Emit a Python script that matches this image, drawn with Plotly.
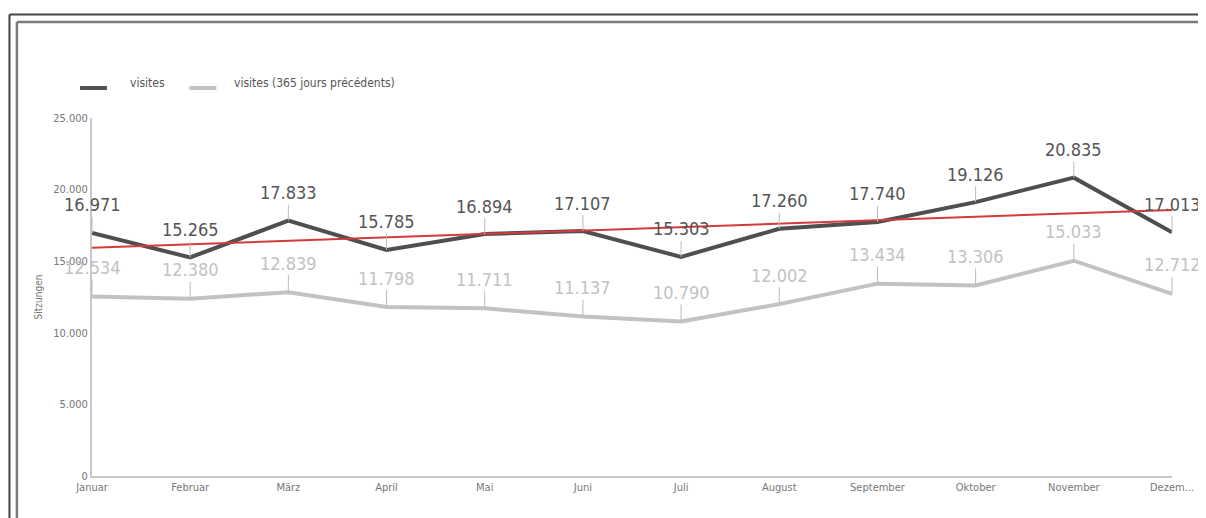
import numpy as np
import plotly.graph_objects as go

months = ["Januar", "Februar", "März", "April", "Mai", "Juni", "Juli",
          "August", "September", "Oktober", "November", "Dezem..."]
visites = [16971, 15265, 17833, 15785, 16894, 17107, 15303, 17260, 17740, 19126, 20835, 17013]
visites_prev = [12534, 12380, 12839, 11798, 11711, 11137, 10790, 12002, 13434, 13306, 15033, 12712]
y_ticks = [0, 5000, 10000, 15000, 20000, 25000]

idx = list(range(len(months)))
slope, intercept = np.polyfit(idx, visites, 1)
trend = [slope * i + intercept for i in idx]

FONT = "DejaVu Sans Condensed, Liberation Sans Narrow, Roboto, sans-serif"
DARK = "#4f4f4f"
LIGHT = "#c2c2c2"

OFF = 8
W, H = 1206 - OFF, 518 - OFF
ML, MT = 92 - OFF, 118 - OFF
MR = 1206 - 1178
MB = 518 - 476
PW, PH = W - ML - MR, H - MT - MB

def px_x(x):
    return (x - OFF - ML) / PW

def px_y(y):
    return (H - MB - (y - OFF)) / PH

fig = go.Figure()
fig.add_trace(go.Scatter(x=idx, y=visites_prev, mode="lines", name="visites (365 jours précédents)",
                         line=dict(color=LIGHT, width=4), cliponaxis=False))
fig.add_trace(go.Scatter(x=idx, y=visites, mode="lines", name="visites",
                         line=dict(color=DARK, width=4), cliponaxis=False))
fig.add_trace(go.Scatter(x=idx, y=trend, mode="lines", showlegend=False,
                         line=dict(color="#d43a3a", width=2), cliponaxis=False))

def fmt(v):
    return f"{v:,}".replace(",", ".")

ann = []
for i, v in zip(idx, visites):
    ann.append(dict(x=i, y=v, xref="x", yref="y", text=fmt(v), showarrow=True,
                    arrowhead=0, arrowwidth=1, arrowcolor="#bbbbbb", ax=0, ay=-28, standoff=0,
                    font=dict(family=FONT, size=18, color="#555555")))
for i, v in zip(idx, visites_prev):
    ann.append(dict(x=i, y=v, xref="x", yref="y", text=fmt(v), showarrow=True,
                    arrowhead=0, arrowwidth=1, arrowcolor="#bbbbbb", ax=0, ay=-29, standoff=0,
                    font=dict(family=FONT, size=18, color=LIGHT)))

shapes = [
    dict(type="line", xref="paper", yref="paper", x0=px_x(9), x1=px_x(1240), y0=px_y(14.5), y1=px_y(14.5),
         line=dict(color="#444444", width=2)),
    dict(type="line", xref="paper", yref="paper", x0=px_x(9), x1=px_x(9), y0=px_y(14.5), y1=px_y(540),
         line=dict(color="#444444", width=2)),
    dict(type="line", xref="paper", yref="paper", x0=px_x(16.5), x1=px_x(1240), y0=px_y(22), y1=px_y(22),
         line=dict(color="#7a7a7a", width=2.5)),
    dict(type="line", xref="paper", yref="paper", x0=px_x(16.5), x1=px_x(16.5), y0=px_y(22), y1=px_y(540),
         line=dict(color="#7a7a7a", width=2.5)),
    dict(type="line", xref="paper", yref="paper", x0=px_x(80), x1=px_x(107), y0=px_y(88), y1=px_y(88),
         line=dict(color=DARK, width=4)),
    dict(type="line", xref="paper", yref="paper", x0=px_x(190), x1=px_x(217), y0=px_y(88), y1=px_y(88),
         line=dict(color=LIGHT, width=4)),
]
ann += [
    dict(xref="paper", yref="paper", x=px_x(128), y=px_y(83), xanchor="left", yanchor="middle",
         text="visites", showarrow=False, font=dict(family=FONT, size=12, color="#555555")),
    dict(xref="paper", yref="paper", x=px_x(233), y=px_y(83), xanchor="left", yanchor="middle",
         text="visites (365 jours précédents)", showarrow=False, font=dict(family=FONT, size=12, color="#555555")),
]

fig.update_layout(
    width=W, height=H,
    margin=dict(l=ML, r=MR, t=MT, b=MB),
    paper_bgcolor="white", plot_bgcolor="white",
    separators=",.",
    showlegend=False,
    shapes=shapes,
    annotations=ann,
    font=dict(family=FONT, color="#777777"),
)
fig.update_xaxes(range=[0, 11], tickmode="array", tickvals=idx, ticktext=months,
                 showgrid=False, zeroline=False, showline=True, linecolor="#c8c8c8", linewidth=2,
                 ticks="", tickfont=dict(family=FONT, size=11, color="#777777"))
fig.update_yaxes(range=[0, 25000], tickmode="array", tickvals=y_ticks,
                 tickformat=",d", showgrid=False, zeroline=False, showline=True,
                 linecolor="#c8c8c8", linewidth=2, ticks="",
                 tickfont=dict(family=FONT, size=11, color="#777777"),
                 title=dict(text="Sitzungen", font=dict(family=FONT, size=10, color="#777777"), standoff=9))

fig.write_html("out.html")
